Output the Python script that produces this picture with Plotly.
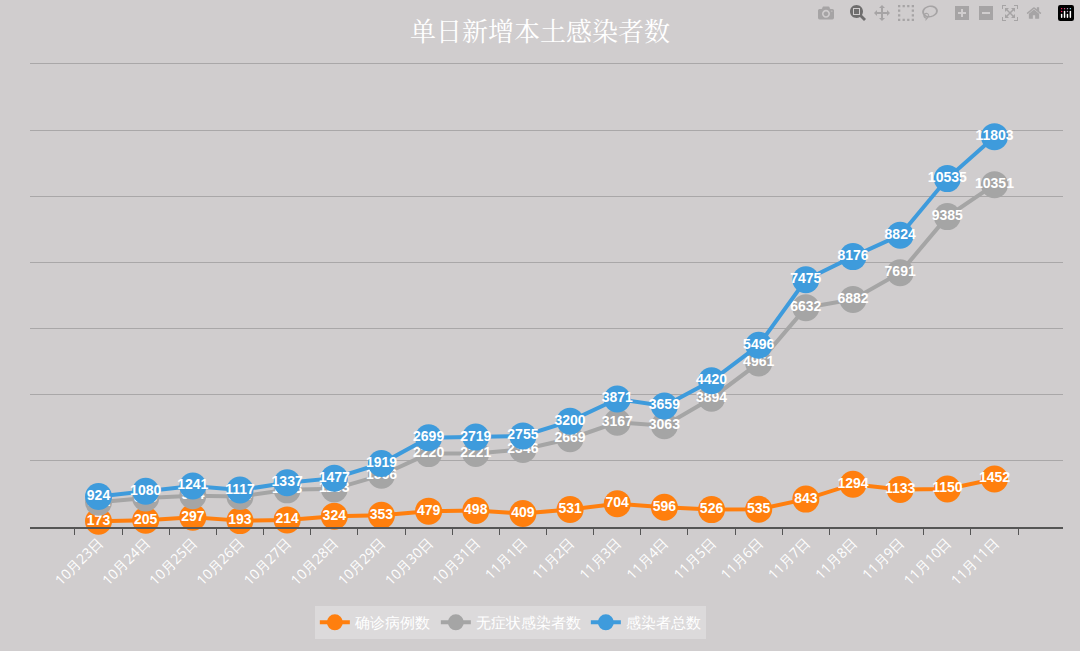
import plotly.graph_objects as go

dates = ["10月23日", "10月24日", "10月25日", "10月26日", "10月27日", "10月28日", "10月29日",
         "10月30日", "10月31日", "11月1日", "11月2日", "11月3日", "11月4日", "11月5日",
         "11月6日", "11月7日", "11月8日", "11月9日", "11月10日", "11月11日"]
confirmed = [173, 205, 297, 193, 214, 324, 353, 479, 498, 409, 531, 704, 596, 526,
             535, 843, 1294, 1133, 1150, 1452]
asymptomatic = [751, 875, 944, 924, 1123, 1153, 1566, 2220, 2221, 2346, 2669, 3167, 3063, 3894,
                4961, 6632, 6882, 7691, 9385, 10351]
total = [924, 1080, 1241, 1117, 1337, 1477, 1919, 2699, 2719, 2755, 3200, 3871, 3659, 4420,
         5496, 7475, 8176, 8824, 10535, 11803]

series = [("确诊病例数", confirmed, "#ff7f0e"),
          ("无症状感染者数", asymptomatic, "#a5a5a5"),
          ("感染者总数", total, "#3e9bdc")]

fig = go.Figure()
for name, vals, color in series:
    fig.add_scatter(
        x=dates, y=vals, name=name, mode="lines+markers+text",
        line=dict(color=color, width=4),
        marker=dict(color=color, size=27),
        text=[f"<b>{v}</b>" for v in vals], textposition="middle center",
        textfont=dict(color="white", size=14, family="Liberation Sans"),
        cliponaxis=False,
    )

fig.update_layout(
    width=1080, height=651,
    paper_bgcolor="#d0cdce", plot_bgcolor="#d0cdce",
    margin=dict(l=30, r=17, t=62, b=106),
    title=dict(text="单日新增本土感染者数", x=0.5, y=0.965, xanchor="center",
               font=dict(color="white", size=26, family="Noto Serif CJK SC, Noto Sans CJK SC")),
    xaxis=dict(tickangle=-45, tickfont=dict(color="white", size=14),
               showgrid=False, showline=True, linecolor="#555", linewidth=2,
               ticks="outside", tickcolor="#555", tickson="boundaries", ticklen=6),
    yaxis=dict(range=[0, 14060], dtick=2000, showticklabels=False,
               gridcolor="#a9a7a8", gridwidth=1, zeroline=False),
    legend=dict(orientation="h", x=0.465, xanchor="center", y=-0.17, yanchor="top",
                bgcolor="#dcdadb", font=dict(color="white", size=15)),
    showlegend=True,
)

fig.write_html("out.html", post_script="document.body.style.margin='0';")
